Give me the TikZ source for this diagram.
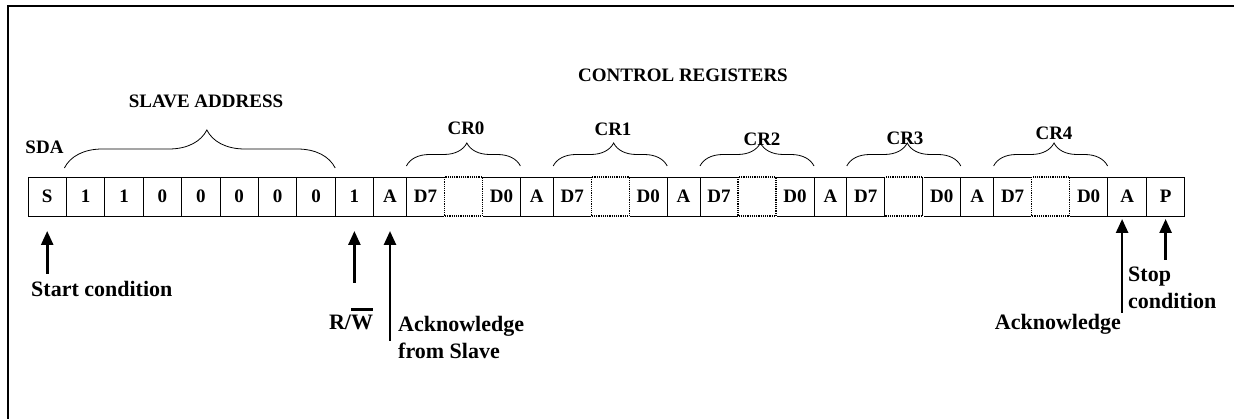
\documentclass[tikz,border=0pt]{standalone}
\usepackage{fontspec}
\setmainfont{Liberation Serif}
\usetikzlibrary{positioning,arrows.meta,decorations.pathreplacing}
% Barre au-dessus d'une lettre
\newcommand{\barred}[1]{{\setbox0\hbox{#1}\vbox{\hrule height 2.6pt width \wd0\kern 5pt\box0}}}

\begin{document}
\begin{tikzpicture}[
    x=1pt, y=-1pt,
    every node/.style={font=\fontsize{19}{21}\selectfont\bfseries},
    % Cases de la trame
    cell/.style={draw, line width=0.8pt, minimum width=38.4pt, minimum height=39pt, inner sep=0pt, outer sep=0pt},
    regcell/.style={cell, minimum width=38pt},
    ackcell/.style={cell, minimum width=32.8pt},
    gapcell/.style={regcell, draw=none},
    gapline/.style={dash pattern=on 1.2pt off 1pt, line width=1.3pt, preaction={draw=white, solid}},
    % Accolades et flèches
    bracket/.style={decorate, decoration={brace, amplitude=23pt, aspect=0.53}, line width=0.8pt},
    pointer/.style={-{Triangle[length=14pt, width=12pt]}, line width=2.6pt},
    note/.style={font=\fontsize{22}{27}\selectfont\bfseries, inner sep=0pt}
]
\useasboundingbox (0,0) rectangle (1234,419);
% Cadre
\draw[line width=2pt] (8,430) -- (8,6) -- (1245,6);

% Adresse de l'esclave
\node[cell] (s) at (47.2,196.5) {S};
\node[cell, right=0pt of s] (b7) {1};
\node[cell, right=0pt of b7] (b6) {1};
\node[cell, right=0pt of b6] (b5) {0};
\node[cell, right=0pt of b5] (b4) {0};
\node[cell, right=0pt of b4] (b3) {0};
\node[cell, right=0pt of b3] (b2) {0};
\node[cell, right=0pt of b2] (b1) {0};
\node[cell, right=0pt of b1] (rw) {1};
\node[ackcell, right=0pt of rw] (a0) {A};
% Registres de controle
\node[regcell, right=0pt of a0] (c0h) {D7};
\node[gapcell, right=0pt of c0h] (c0g) {};
\node[regcell, right=0pt of c0g] (c0l) {D0};
\node[ackcell, right=0pt of c0l] (a1) {A};
\node[regcell, right=0pt of a1] (c1h) {D7};
\node[gapcell, right=0pt of c1h] (c1g) {};
\node[regcell, right=0pt of c1g] (c1l) {D0};
\node[ackcell, right=0pt of c1l] (a2) {A};
\node[regcell, right=0pt of a2] (c2h) {D7};
\node[gapcell, right=0pt of c2h] (c2g) {};
\node[regcell, right=0pt of c2g] (c2l) {D0};
\node[ackcell, right=0pt of c2l] (a3) {A};
\node[regcell, right=0pt of a3] (c3h) {D7};
\node[gapcell, right=0pt of c3h] (c3g) {};
\node[regcell, right=0pt of c3g] (c3l) {D0};
\node[ackcell, right=0pt of c3l] (a4) {A};
\node[regcell, right=0pt of a4] (c4h) {D7};
\node[gapcell, right=0pt of c4h] (c4g) {};
\node[regcell, right=0pt of c4g] (c4l) {D0};
\node[cell, minimum width=39pt, right=0pt of c4l] (a5) {A};
\node[regcell, right=0pt of a5] (p) {P};
\foreach \g in {c0g,c1g,c2g,c3g,c4g}
    \draw[gapline] (\g.north west) rectangle (\g.south east);

% Titres
\node (sda) at (44.5,147) {SDA};
\node (slave) at (206,101) {SLAVE ADDRESS};
\node (ctrl) at (683,75) {CONTROL REGISTERS};
\node (cr0) at (466,128) {CR0};
\node (cr1) at (613,129) {CR1};
\node (cr2) at (762,139) {CR2};
\node (cr3) at (905,138) {CR3};
\node (cr4) at (1054,133) {CR4};

% Accolades
\draw[bracket, decoration={brace, amplitude=38pt, aspect=0.526}]
    ([xshift=-2pt, yshift=9pt]b7.north west) -- ([yshift=9pt]b1.north east);
\draw[bracket] ([yshift=11pt]c0h.north west) -- ([yshift=11pt]c0l.north east);
\draw[bracket] ([yshift=11pt]c1h.north west) -- ([yshift=11pt]c1l.north east);
\draw[bracket] ([yshift=11pt]c2h.north west) -- ([yshift=11pt]c2l.north east);
\draw[bracket] ([yshift=11pt]c3h.north west) -- ([yshift=11pt]c3l.north east);
\draw[bracket] ([yshift=11pt]c4h.north west) -- ([yshift=11pt]c4l.north east);

% Legendes du bas
\node[note, anchor=base west] (start) at (31,297) {Start condition};
\node[note, anchor=base] (rwnote) at (351,330) {R/\barred{W}};
\node[note, anchor=north west, align=left] (slaveack) at (398,316) {Acknowledge\\from Slave};
\node[note, anchor=base east] (lastack) at (1121,330) {Acknowledge};
\node[note, anchor=north west, align=left] (stop) at (1128,267) {Stop\\condition};

% Fleches
\coordinate (starttail) at (s.south |- 0,274);
\coordinate (rwtail) at (rw.south |- 0,283);
\coordinate (acktail) at (a0.south |- 0,341);
\coordinate (lasttail) at ([xshift=-5pt]a5.south |- 0,313);
\coordinate (stoptail) at (p.south |- 0,260);
\draw[pointer] (starttail) -- ([yshift=-15pt]s.south);
\draw[pointer] (rwtail) -- ([yshift=-15pt]rw.south);
\draw[pointer] (acktail) -- ([yshift=-15pt]a0.south);
\draw[pointer] (lasttail) -- ([xshift=-5pt, yshift=-3pt]a5.south);
\draw[pointer] (stoptail) -- ([yshift=-3pt]p.south);
\end{tikzpicture}
\end{document}
